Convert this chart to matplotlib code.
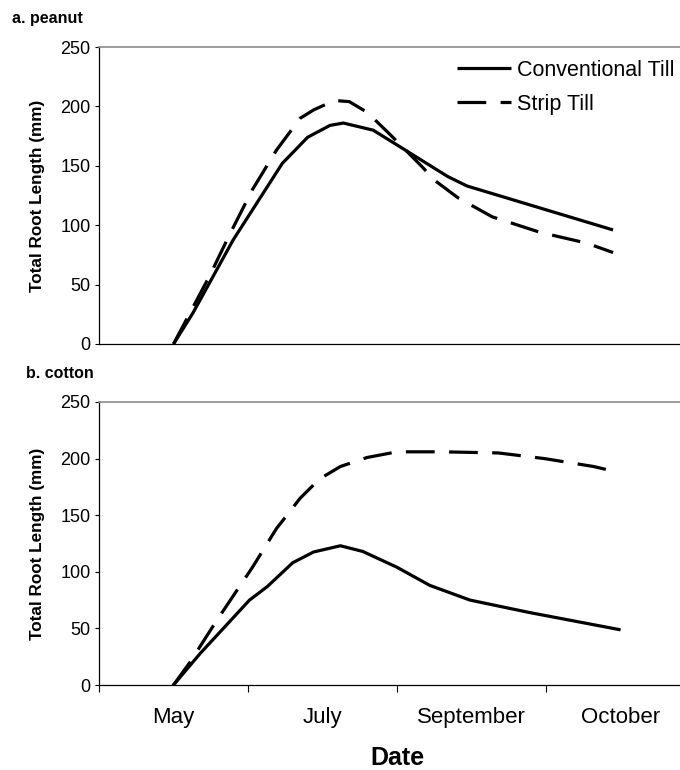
import numpy as np
import matplotlib
matplotlib.use("Agg")
import matplotlib.pyplot as plt

plt.rcParams['font.family'] = ['Liberation Sans', 'DejaVu Sans']

months = ['May', 'July', 'September', 'October']

# x in category units (0 = May centre, 1 = July, ...)
peanut_conv_x = [0.0, 0.13, 0.40, 0.73, 0.90, 1.05, 1.14, 1.34, 1.52, 1.84, 1.97, 2.95]
peanut_conv_y = [0, 26, 87.5, 152, 174, 184, 186, 180, 166, 141, 133, 96]

peanut_strip_x = [0.0, 0.245, 0.38, 0.53, 0.69, 0.85, 0.94, 1.08, 1.18, 1.30, 1.44,
                  1.52, 1.67, 1.75, 1.91, 2.14, 2.46, 2.77, 2.95]
peanut_strip_y = [0, 58, 93, 130, 163, 190, 197, 205, 204, 195, 178,
                  168, 149, 138, 123, 107, 94, 85, 77]

cotton_conv_x = [0.0, 0.18, 0.51, 0.63, 0.80, 0.94, 1.12, 1.27, 1.50, 1.72, 1.99, 2.39, 2.99]
cotton_conv_y = [0, 28, 75, 87, 108, 117.5, 123, 118, 104, 88, 75, 64, 49]

cotton_strip_x = [0.0, 0.11, 0.29, 0.53, 0.69, 0.85, 0.98, 1.12, 1.30, 1.50, 1.80,
                  2.18, 2.49, 2.82, 2.98]
cotton_strip_y = [0, 20, 57, 104, 138, 165, 182, 193, 201, 206, 206,
                  205, 200, 193, 188]

W, H = 680, 770
fig = plt.figure(figsize=(W / 100, H / 100), dpi=100)

def make_axes(top_px, bottom_px):
    left = 99 / W
    right = 695 / W
    return fig.add_axes([left, 1 - bottom_px / H, right - left, (bottom_px - top_px) / H])

ax1 = make_axes(47, 344)
ax2 = make_axes(402, 685)

dash = (0, (9, 4.5))
lw = 2.3

ax1.plot(peanut_conv_x, peanut_conv_y, color='black', lw=lw, label='Conventional Till',
         solid_joinstyle='round', solid_capstyle='butt')
ax1.plot(peanut_strip_x, peanut_strip_y, color='black', lw=lw, linestyle=dash, label='Strip Till')
ax2.plot(cotton_conv_x, cotton_conv_y, color='black', lw=lw, solid_joinstyle='round')
ax2.plot(cotton_strip_x, cotton_strip_y, color='black', lw=lw, linestyle=dash)

for ax in (ax1, ax2):
    ax.set_xlim(-0.5, 3.5)
    ax.set_ylim(0, 250)
    ax.set_yticks([0, 50, 100, 150, 200, 250])
    ax.tick_params(axis='y', direction='out', length=3, width=0.8, labelsize=13, pad=3)
    ax.spines['right'].set_visible(False)
    ax.spines['top'].set_color('#8c8c8c')
    ax.spines['top'].set_linewidth(1.2)
    ax.spines['left'].set_linewidth(0.9)
    ax.spines['bottom'].set_linewidth(0.9)
    ax.set_ylabel('Total Root Length (mm)', fontsize=12.3, fontweight='bold')
    ax.yaxis.set_label_coords((45 - 99) / 596, 0.5)

ax1.set_xticks([])

ax2.set_xticks([-0.5, 0.5, 1.5, 2.5, 3.5])
ax2.set_xticklabels([])
ax2.tick_params(axis='x', which='major', direction='out', length=5, width=0.8)
ax2.set_xticks(np.arange(len(months)), minor=True)
ax2.set_xticklabels(months, minor=True, fontsize=16)
ax2.tick_params(axis='x', which='minor', length=0, pad=16)

fig.text(12 / W, 1 - 18 / H, 'a. peanut', fontsize=11.5, fontweight='bold', va='center', ha='left')
fig.text(26 / W, 1 - 373 / H, 'b. cotton', fontsize=11.5, fontweight='bold', va='center', ha='left')
fig.text(397 / W, 1 - 758 / H, 'Date', fontsize=18, fontweight='bold', va='center', ha='center')

fig.legend(handles=ax1.get_lines(), loc='upper left', bbox_to_anchor=(457 / W, 1 - 60 / H),
           frameon=False, fontsize=15.5, handlelength=2.5, handletextpad=0.3,
           labelspacing=0.6, borderpad=0, borderaxespad=0)

fig.savefig('out.png', dpi=100)
